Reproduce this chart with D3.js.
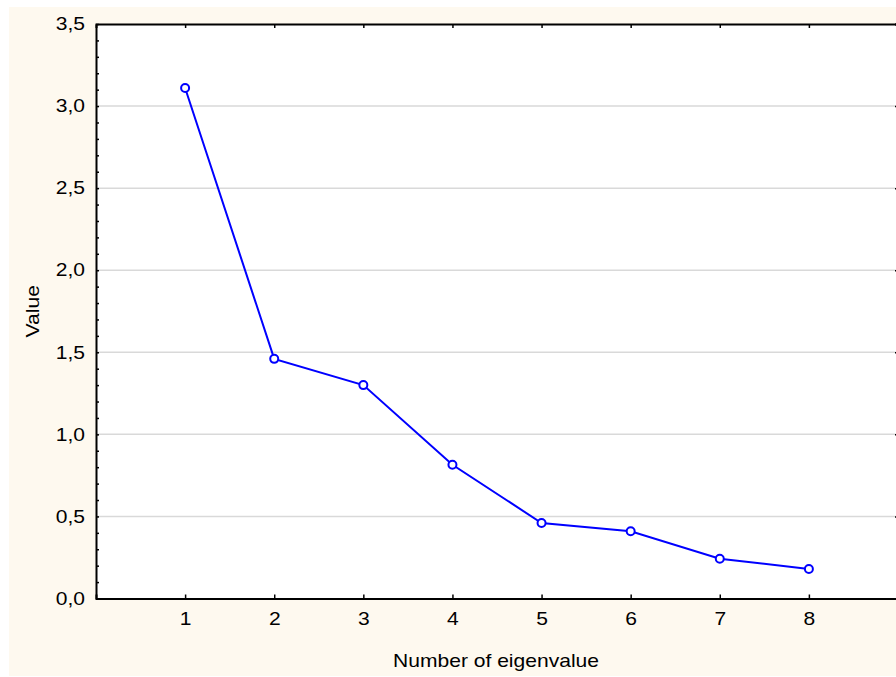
<!DOCTYPE html>
<html>
<head>
<meta charset="utf-8">
<script src="https://cdn.jsdelivr.net/npm/d3@7"></script>
<style>
  body { margin: 0; background: #fff; }
  text { font-family: "Liberation Sans", Arial, sans-serif; }
</style>
</head>
<body>
<svg width="896" height="677"></svg>
<script>
// eigenvalues
var eigenNumber = [1, 2, 3, 4, 5, 6, 7, 8]
var eigenValue = [3.11, 1.46, 1.30, 0.815, 0.46, 0.41, 0.242, 0.18]
var yTicks = [0, 0.5, 1.0, 1.5, 2.0, 2.5, 3.0, 3.5]

var svg = d3.select('svg')
var stretch = 1.17  // text in the original looks horizontally stretched

// cream panel
svg.append('rect')
  .attr('x', 9).attr('y', 7)
  .attr('width', 887).attr('height', 669)
  .attr('fill', '#fef9ef')

var pLeft = 96, pRight = 898, pTop = 24, pBottom = 598.5

var x = d3.scaleLinear().domain([0, 9]).range([pLeft, pRight])
var y = d3.scaleLinear().domain([0, 3.5]).range([pBottom, pTop])

// plot area
svg.append('rect')
  .attr('x', pLeft).attr('y', pTop)
  .attr('width', pRight - pLeft).attr('height', pBottom - pTop)
  .attr('fill', '#fff')

// grid lines
svg.append('g')
  .selectAll('line')
  .data(yTicks.slice(1, -1))
  .enter().append('line')
  .attr('x1', pLeft).attr('x2', pRight)
  .attr('y1', d => y(d)).attr('y2', d => y(d))
  .attr('stroke', '#d9d9d9')
  .attr('stroke-width', 1.5)

function stretchText(sel) {
  sel.selectAll('text').each(function() {
    var t = d3.select(this)
    var tx = +t.attr('x') || 0, ty = +t.attr('y') || 0
    t.attr('transform', 'translate(' + tx + ',' + ty + ') scale(' + stretch + ',1)')
      .attr('x', 0).attr('y', 0)
  })
}

var comma = d => d3.format('.1f')(d).replace('.', ',')

// minor ticks on y (inside)
var minor = d3.range(0, 36).map(d => d / 10)
svg.append('g')
  .attr('transform', 'translate(' + pLeft + ',0)')
  .call(d3.axisRight(y).tickValues(minor).tickSize(3).tickFormat(''))
  .call(g => g.select('.domain').remove())
  .selectAll('line').attr('stroke', '#000').attr('stroke-width', 1.5)

// left axis
var yAxis = svg.append('g')
  .attr('transform', 'translate(' + pLeft + ',0)')
  .call(d3.axisLeft(y).tickValues(yTicks).tickSize(0).tickPadding(11).tickFormat(comma))
yAxis.select('.domain').attr('stroke', '#000').attr('stroke-width', 2)
yAxis.selectAll('text').attr('font-size', 18).attr('fill', '#000').attr('font-family', '"Liberation Sans", Arial, sans-serif')
stretchText(yAxis)

// right axis ticks
svg.append('g')
  .attr('transform', 'translate(' + pRight + ',0)')
  .call(d3.axisLeft(y).tickValues(yTicks).tickSize(3).tickFormat(''))
  .call(g => g.select('.domain').attr('stroke', '#000').attr('stroke-width', 2))
  .selectAll('line').attr('stroke', '#000').attr('stroke-width', 1.5)

// top axis ticks
svg.append('g')
  .attr('transform', 'translate(0,' + pTop + ')')
  .call(d3.axisBottom(x).tickValues(eigenNumber).tickSize(4).tickFormat(''))
  .call(g => g.select('.domain').attr('stroke', '#000').attr('stroke-width', 2))
  .selectAll('line').attr('stroke', '#000').attr('stroke-width', 1.5)

// bottom axis
var xAxis = svg.append('g')
  .attr('transform', 'translate(0,' + pBottom + ')')
  .call(d3.axisTop(x).tickValues(eigenNumber).tickSize(4).tickFormat(''))
xAxis.select('.domain').attr('stroke', '#000').attr('stroke-width', 2)
xAxis.selectAll('line').attr('stroke', '#000').attr('stroke-width', 1.5)

var xLabels = svg.append('g')
  .attr('transform', 'translate(0,' + pBottom + ')')
  .call(d3.axisBottom(x).tickValues(eigenNumber).tickSize(0).tickPadding(14))
xLabels.select('.domain').remove()
xLabels.selectAll('text').attr('font-size', 18).attr('fill', '#000').attr('font-family', '"Liberation Sans", Arial, sans-serif')
stretchText(xLabels)

// line + markers
var line = d3.line()
  .x((d, i) => x(eigenNumber[i]))
  .y(d => y(d))

svg.append('path')
  .datum(eigenValue)
  .attr('d', line)
  .attr('fill', 'none')
  .attr('stroke', '#0000ff')
  .attr('stroke-width', 2)

svg.selectAll('circle.pt')
  .data(eigenValue)
  .enter().append('circle')
  .attr('class', 'pt')
  .attr('cx', (d, i) => x(eigenNumber[i]))
  .attr('cy', d => y(d))
  .attr('r', 4)
  .attr('fill', '#fff')
  .attr('stroke', '#0000ff')
  .attr('stroke-width', 2)

// axis titles
svg.append('text')
  .attr('transform', 'translate(' + ((pLeft + pRight) / 2 - 1) + ',667) scale(' + stretch + ',1)')
  .attr('text-anchor', 'middle')
  .attr('font-size', 18)
  .text('Number of eigenvalue')

svg.append('text')
  .attr('transform', 'translate(39,' + y(1.75) + ') rotate(-90) scale(' + stretch + ',1)')
  .attr('text-anchor', 'middle')
  .attr('font-size', 18)
  .text('Value')
</script>
</body>
</html>
